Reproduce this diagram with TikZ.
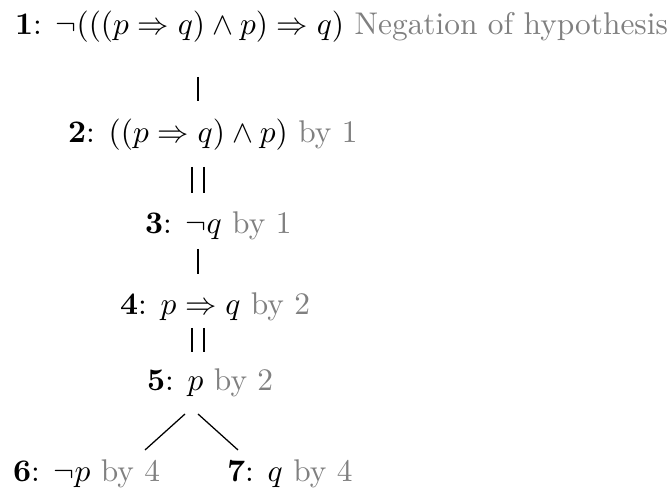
\documentclass[tikz,border=0pt]{standalone}
\usepackage{amsmath}
\definecolor{just}{gray}{0.5}
\begin{document}
\begin{tikzpicture}[x=0.3187pt,y=-0.3187pt,
  row/.style={anchor=base west,inner sep=0pt,outer sep=0pt},
  edge/.style={line width=0.4pt,black}]
\useasboundingbox (0,0) rectangle (669,495);
\node[row] (n1) at (15,35) {$\mathbf{1}$: $\neg(((p\Rightarrow q)\wedge p)\Rightarrow q)$ \textcolor{just}{Negation of hypothesis}};
\node[row] (n2) at (68,143) {$\mathbf{2}$: $((p\Rightarrow q)\wedge p)$ \textcolor{just}{by 1}};
\node[row] (n3) at (145,234) {$\mathbf{3}$: $\neg q$ \textcolor{just}{by 1}};
\node[row] (n4) at (120,315) {$\mathbf{4}$: $p\Rightarrow q$ \textcolor{just}{by 2}};
\node[row] (n5) at (147,391) {$\mathbf{5}$: $p$ \textcolor{just}{by 2}};
\node[row] (n6) at (13,482) {$\mathbf{6}$: $\neg p$ \textcolor{just}{by 4}};
\node[row] (n7) at (227,482) {$\mathbf{7}$: $q$ \textcolor{just}{by 4}};
\coordinate (a1) at (198,77);  \coordinate (a2) at (198,101);
\coordinate (b1) at (192,167); \coordinate (b2) at (192,193);
\coordinate (c1) at (204,167); \coordinate (c2) at (204,193);
\coordinate (d1) at (198,249); \coordinate (d2) at (198,274);
\coordinate (e1) at (192,328); \coordinate (e2) at (192,352);
\coordinate (f1) at (204,328); \coordinate (f2) at (204,352);
\coordinate (g1) at (185,414); \coordinate (g2) at (145,450);
\coordinate (h1) at (198,414); \coordinate (h2) at (238,450);
\draw[edge] (a1) -- (a2);
\draw[edge] (b1) -- (b2);
\draw[edge] (c1) -- (c2);
\draw[edge] (d1) -- (d2);
\draw[edge] (e1) -- (e2);
\draw[edge] (f1) -- (f2);
\draw[edge] (g1) -- (g2);
\draw[edge] (h1) -- (h2);
\end{tikzpicture}
\end{document}
